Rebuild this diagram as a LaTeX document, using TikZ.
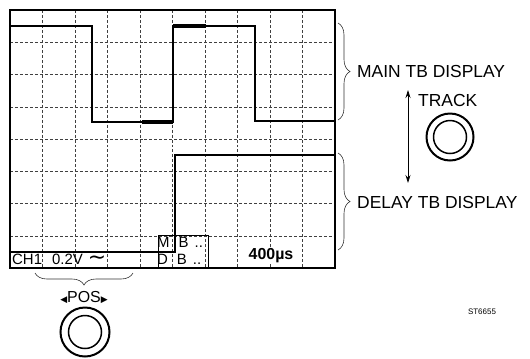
\documentclass[tikz,border=0pt]{standalone}
\usepackage{fontspec}
\setmainfont{Liberation Sans}
\newfontfamily\symfont{DejaVu Sans}
\usetikzlibrary{arrows.meta, positioning, decorations.pathreplacing}

\begin{document}
\begin{tikzpicture}[x=1bp, y=-1bp, every node/.style={inner sep=0pt},
    gridline/.style={densely dashed, black!75, line width=0.5bp},
    trace/.style={line width=1.3bp},
    bright/.style={line width=3.6bp},
    bracket/.style={decorate, decoration={brace, amplitude=12bp, aspect=0.5}, line width=0.6bp, black!80},
    biglabel/.style={font=\fontsize{17.5}{18}\selectfont, anchor=west},
    readout/.style={font=\fontsize{15}{15}\selectfont}]
    \useasboundingbox (0,0) rectangle (530,358);
    % Graticule
    \foreach \gx in {1,...,9} \draw[gridline] ({10+32.5*\gx},10) -- ({10+32.5*\gx},268);
    \foreach \gy in {1,...,7} \draw[gridline] (10,{10+32.25*\gy}) -- (335,{10+32.25*\gy});
    \draw[line width=1.4bp] (10,10) rectangle (335,268);
    % Main and delayed traces
    \draw[trace] (10,26) -- (92,26) -- (92,122) -- (173,122) -- (173,26) -- (255,26) -- (255,121) -- (335,121);
    \draw[bright] (142,122) -- (173,122);
    \draw[bright] (173,26) -- (206,26);
    \draw[trace] (10,252) -- (175,252) -- (175,155) -- (335,155);
    % Readout
    \draw[line width=1bp] (158,268) -- (158,235) -- (208,235) -- (208,268);
    \node[readout, anchor=west] (ch1) at (12,259) {CH1\hspace{10bp}0.2V\hspace{5bp}{\symfont\fontsize{22}{22}\selectfont ∼}};
    \node[readout, anchor=west] (mtb) at (157,242.5) {M\hspace{9bp}B\hspace{6bp}..};
    \node[readout, anchor=west] (dtb) at (157,259) {D\hspace{9bp}B\hspace{6bp}..};
    \node[readout, font=\fontsize{16}{16}\selectfont\bfseries, fill=white, inner sep=1bp] (time) at (271,256) {400µs};
    % Braces and labels
    \coordinate (mainTop) at (338,23);
    \coordinate (mainBot) at (338,120);
    \coordinate (delTop) at (338,153);
    \coordinate (delBot) at (338,250);
    \draw[bracket] (mainTop) -- (mainBot);
    \draw[bracket] (delTop) -- (delBot);
    \node[biglabel] (mainlbl) at (357,71.5) {MAIN TB DISPLAY};
    \node[biglabel] (dellbl) at (357,202) {DELAY TB DISPLAY};
    % Track control
    \coordinate (trkUp) at (408,90);
    \coordinate (trkDn) at (408,183);
    \draw[{Stealth[length=8bp,width=5bp]}-{Stealth[length=8bp,width=5bp]}, line width=0.8bp] (trkUp) -- (trkDn);
    \node[biglabel] (track) at (418,100) {TRACK};
    \node[circle, draw, line width=2bp, minimum size=47bp] (trkknob) at (450,137) {};
    \node[circle, draw, line width=1.5bp, minimum size=33bp] at (trkknob) {};
    % Position control
    \coordinate (posR) at (133,273);
    \coordinate (posL) at (35,273);
    \draw[bracket] (posR) -- (posL);
    \node[font=\fontsize{16}{16}\selectfont] (pos) at (84,297) {{\symfont\fontsize{9}{9}\selectfont ◀}POS{\symfont\fontsize{9}{9}\selectfont ▶}};
    \node[circle, draw, line width=2bp, minimum size=49bp] (posknob) at (85,332) {};
    \node[circle, draw, line width=1.5bp, minimum size=33bp] at (posknob) {};
    % Figure number
    \node[font=\fontsize{8}{8}\selectfont] (fig) at (482,312) {ST6655};
\end{tikzpicture}
\end{document}
